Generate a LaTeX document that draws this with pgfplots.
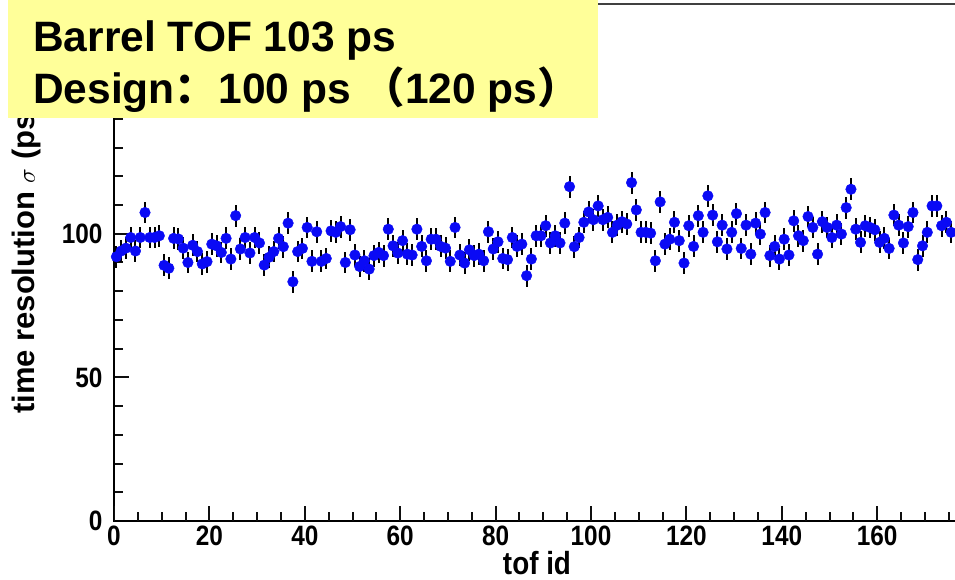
\documentclass[border=0pt]{standalone}
\usepackage{pgfplots}
\pgfplotsset{compat=1.18}
\usepackage{fontspec}
\setmainfont{Liberation Sans}
\newfontfamily\narrow{Liberation Sans}[FakeStretch=0.87]
\newfontfamily\cjk{Noto Sans CJK SC}
\definecolor{boxyellow}{RGB}{255,255,153}
\definecolor{markblue}{RGB}{10,10,245}
\definecolor{tickblack}{RGB}{15,15,15}
\begin{document}
\begin{tikzpicture}
\useasboundingbox (-114pt,-59pt) rectangle (841pt,521pt);
\begin{axis}[
  width=845pt, height=517pt, scale only axis,
  xmin=0, xmax=177.15, ymin=0, ymax=180,
  axis line style={line width=2pt, black},
  tick align=inside,
  xtick pos=lower, ytick pos=left,
  xtick={0,20,...,160}, minor x tick num=3,
  ytick={0,50,100},
  minor ytick={10,20,30,40,60,70,80,90,110,120,130,140,150,160,170},
  major tick length=15pt, minor tick length=9pt,
  every tick/.append style={line width=2pt, draw=tickblack},
  every x tick/.append style={line width=2pt, draw=tickblack},
  /pgf/number format/assume math mode=true,
  ticklabel style={font=\narrow\bfseries\fontsize{28}{28}\selectfont},
  xticklabel style={yshift=-1pt},
  yticklabel style={xshift=-8pt},
  xlabel={tof id},
  ylabel={time resolution $\sigma$ (ps)},
  every axis x label/.style={at={(axis description cs:0.5006,-0.082)}, anchor=center, font=\narrow\bfseries\fontsize{32}{32}\selectfont},
  every axis y label/.style={at={(axis description cs:-0.103,0.508)}, anchor=center, rotate=90, font=\bfseries\fontsize{31}{31}\selectfont},
]
\addplot[only marks, mark=*, mark size=5.3pt, mark options={fill=markblue, draw=markblue},
  error bars/.cd, y dir=both, y fixed=3.8, error mark=none,
  error bar style={line width=2pt, black}]
coordinates {
(0.5,92) (1.5,94) (2.5,95) (3.5,98.7) (4.5,94) (5.5,98.7) (6.5,107.4) (7.5,98.7) (8.5,98.7) (9.5,99.3)
(10.5,89) (11.5,88) (12.5,98.4) (13.5,98.2) (14.5,95) (15.5,90) (16.5,96) (17.5,93.8) (18.5,89.5) (19.5,90.3)
(20.5,96.4) (21.5,95.8) (22.5,93.5) (23.5,98.4) (24.5,91.2) (25.5,106.3) (26.5,94.7) (27.5,98.7) (28.5,93.3) (29.5,98.7)
(30.5,96.8) (31.5,89.1) (32.5,91.8) (33.5,93.8) (34.5,98.4) (35.5,95.5) (36.5,103.7) (37.5,83.3) (38.5,93.8) (39.5,94.9)
(40.5,102.2) (41.5,90.4) (42.5,100.7) (43.5,90.4) (44.5,91.4) (45.5,101) (46.5,100.5) (47.5,102.5) (48.5,90) (49.5,101.4)
(50.5,92.6) (51.5,88.6) (52.5,90.6) (53.5,87.7) (54.5,92.4) (55.5,93.5) (56.5,92.4) (57.5,101.6) (58.5,95.8) (59.5,93.3)
(60.5,97.6) (61.5,92.9) (62.5,92.6) (63.5,101.6) (64.5,95.6) (65.5,90.6) (66.5,98.1) (67.5,98.1) (68.5,95.6) (69.5,95)
(70.5,90.4) (71.5,102.2) (72.5,92.6) (73.5,89.8) (74.5,94.4) (75.5,92.4) (76.5,92.9) (77.5,90.6) (78.5,100.7) (79.5,94.7)
(80.5,97.2) (81.5,91.4) (82.5,91) (83.5,98.7) (84.5,95.6) (85.5,96.4) (86.5,85.4) (87.5,91.2) (88.5,99.3) (89.5,99.3)
(90.5,102.8) (91.5,96.8) (92.5,99.3) (93.5,96.8) (94.5,103.7) (95.5,116.4) (96.5,95.5) (97.5,98.7) (98.5,104) (99.5,107.6)
(100.5,104.9) (101.5,109.7) (102.5,104.9) (103.5,105.7) (104.5,100.5) (105.5,103) (106.5,104.2) (107.5,103.4) (108.5,117.8) (109.5,108.3)
(110.5,100.5) (111.5,100.5) (112.5,100.2) (113.5,90.6) (114.5,111.1) (115.5,96.4) (116.5,98.1) (117.5,104) (118.5,97.6) (119.5,89.8)
(120.5,102.8) (121.5,95.6) (122.5,106.3) (123.5,100.5) (124.5,113.2) (125.5,106.5) (126.5,97.2) (127.5,103) (128.5,94.7) (129.5,100.5)
(130.5,107) (131.5,94.9) (132.5,103) (133.5,92.9) (134.5,103.7) (135.5,99.9) (136.5,107.4) (137.5,92.4) (138.5,95.6) (139.5,91.2)
(140.5,98.1) (141.5,92.6) (142.5,104.5) (143.5,99.3) (144.5,97.6) (145.5,106) (146.5,102.2) (147.5,92.9) (148.5,104.2) (149.5,102.2)
(150.5,98.7) (151.5,103) (152.5,99.9) (153.5,109.1) (154.5,115.5) (155.5,101.6) (156.5,97) (157.5,102.8) (158.5,102.2) (159.5,101.4)
(160.5,97) (161.5,98.4) (162.5,94.9) (163.5,106.5) (164.5,103) (165.5,96.8) (166.5,102.5) (167.5,107.4) (168.5,91) (169.5,95.8)
(170.5,100.5) (171.5,109.7) (172.5,109.7) (173.5,102.8) (174.5,104) (175.5,100.5)
};
\pgfplotsinvokeforeach{0,20,40,60,80,100,120,140,160}{
  \draw[line width=2pt, tickblack] (axis cs:#1,0) -- ([yshift=15pt]axis cs:#1,0);
}
\pgfplotsinvokeforeach{5,10,15,25,30,35,45,50,55,65,70,75,85,90,95,105,110,115,125,130,135,145,150,155,165,170,175}{
  \draw[line width=2pt, tickblack] (axis cs:#1,0) -- ([yshift=9pt]axis cs:#1,0);
}
\draw[line width=2.5pt, black!75] (rel axis cs:0,1) -- (rel axis cs:1,1);
\end{axis}
\fill[boxyellow] (-106pt,403pt) rectangle (484pt,521pt);
\node[anchor=base west, inner sep=0pt, font=\bfseries\fontsize{42.5}{42.5}\selectfont] at (-81pt,469pt) {Barrel TOF 103 ps};
\node[anchor=base west, inner sep=0pt, font=\bfseries\fontsize{42.5}{42.5}\selectfont] at (-81pt,417pt) {Design{\cjk ：}\kern1pt 100 ps {\cjk （}120 ps{\cjk ）}};
\end{tikzpicture}
\end{document}
